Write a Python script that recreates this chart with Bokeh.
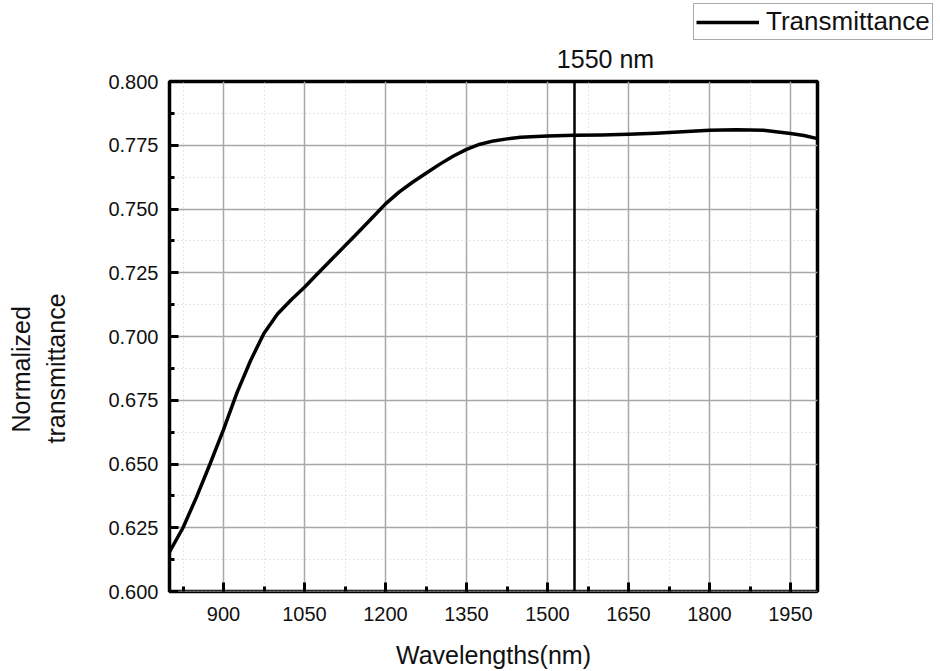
from bokeh.plotting import figure
from bokeh.models import (Range1d, SingleIntervalTicker, PrintfTickFormatter, Span,
                          Title, Legend, LegendItem, Label)
from bokeh.layouts import column
from bokeh.embed import file_html
from bokeh.resources import INLINE

# ---- data ----
wavelength = [800, 825, 850, 875, 900, 925, 950, 975, 1000, 1025, 1050, 1075, 1100,
              1125, 1150, 1175, 1200, 1225, 1250, 1275, 1300, 1325, 1350, 1375, 1400,
              1425, 1450, 1500, 1550, 1600, 1650, 1700, 1750, 1800, 1850, 1900, 1950,
              1975, 2000]
transmittance = [0.6155, 0.625, 0.637, 0.650, 0.6635, 0.678, 0.6905, 0.7013, 0.7088,
                 0.7143, 0.7193, 0.7248, 0.7302, 0.7356, 0.741, 0.7465, 0.752, 0.7566,
                 0.7605, 0.764, 0.7675, 0.7707, 0.7734, 0.7754, 0.7767, 0.7775, 0.7781,
                 0.7786, 0.7789, 0.7790, 0.7793, 0.7797, 0.7803, 0.7809, 0.7811,
                 0.7809, 0.7796, 0.7788, 0.7776]
x_start, x_end = 800, 2000
y_start, y_end = 0.6, 0.8
marker_wavelength = 1550
marker_label = "1550 nm"
series_name = "Transmittance"
x_title = "Wavelengths(nm)"
y_title_lines = ["Normalized", "transmittance"]

FONT = "Liberation Sans"
TXT = "#111111"

W = 940
TOP_H = 70
MAIN_H = 671 - TOP_H
LEFT, RIGHT = 169, 123
FRAME_W = W - LEFT - RIGHT
px_per_unit = FRAME_W / (x_end - x_start)

# ---------------- main plot ----------------
p = figure(width=W, height=MAIN_H, output_backend="svg", toolbar_location=None,
           x_range=Range1d(x_start, x_end), y_range=Range1d(y_start, y_end),
           min_border_left=LEFT, min_border_right=RIGHT, min_border_top=81 - TOP_H,
           min_border_bottom=80)
p.frame_align = False
p.outline_line_color = "black"
p.outline_line_width = 3.5
p.background_fill_color = "white"
p.border_fill_color = "white"

r = p.line(wavelength, transmittance, line_color="black", line_width=3.5,
           line_join="round")

p.xaxis.ticker = SingleIntervalTicker(interval=150, num_minor_ticks=2)
p.yaxis.ticker = SingleIntervalTicker(interval=0.025, num_minor_ticks=2)
p.yaxis.formatter = PrintfTickFormatter(format="%.3f")
for ax in (p.xaxis, p.yaxis):
    ax.axis_line_color = None
    ax.major_tick_in = 9
    ax.major_tick_out = 0
    ax.minor_tick_in = 5
    ax.minor_tick_out = 0
    ax.major_tick_line_width = 3
    ax.minor_tick_line_width = 3
    ax.major_tick_line_color = "black"
    ax.minor_tick_line_color = "black"
    ax.major_label_text_font = FONT
    ax.major_label_text_font_size = "20px"
    ax.major_label_text_color = TXT
p.xaxis.major_label_standoff = 15
p.yaxis.major_label_standoff = 11
p.xaxis.axis_label = x_title
p.xaxis.axis_label_text_font = FONT
p.xaxis.axis_label_text_font_size = "25px"
p.xaxis.axis_label_text_font_style = "normal"
p.xaxis.axis_label_text_color = TXT
p.xaxis.axis_label_standoff = 17
# blank y axis label only used as a spacer
p.yaxis.axis_label = " "
p.yaxis.axis_label_text_font_size = "1px"
p.yaxis.axis_label_standoff = 31

for g in (p.xgrid, p.ygrid):
    g.grid_line_color = "#a8a8a8"
    g.grid_line_width = 1.5
    g.minor_grid_line_color = "#cfcfcf"
    g.minor_grid_line_width = 1
    g.minor_grid_line_dash = "1 3"

p.add_layout(Span(location=marker_wavelength, dimension="height",
                  line_color="black", line_width=2.5))

# y axis title: two rotated lines (first added is nearest the frame)
p.add_layout(Title(text=y_title_lines[1], align="left", offset=148, standoff=2,
                   vertical_align="bottom", text_font=FONT, text_font_size="25px",
                   text_font_style="normal", text_color=TXT), "left")
p.add_layout(Title(text=y_title_lines[0], align="left", offset=159, standoff=8,
                   vertical_align="bottom", text_font=FONT, text_font_size="25px",
                   text_font_style="normal", text_color=TXT), "left")

# ---------------- top strip: marker label + legend ----------------
top = figure(width=W, height=TOP_H, output_backend="svg", toolbar_location=None,
             x_axis_type=None, y_axis_type=None,
             x_range=Range1d(x_start - LEFT / px_per_unit, x_end + RIGHT / px_per_unit),
             y_range=Range1d(-2, -1), min_border=0)
top.frame_align = False
top.grid.visible = False
top.outline_line_color = None
top.background_fill_color = "white"
top.border_fill_color = "white"
r2 = top.line(wavelength, transmittance, line_color="black", line_width=3.5)

top.add_layout(Label(x=marker_wavelength, y=TOP_H - 58, x_units="data", y_units="screen",
                     x_offset=31, text=marker_label, text_font=FONT,
                     text_font_size="25px", text_align="center",
                     text_baseline="alphabetic", text_color=TXT))

legend = Legend(items=[LegendItem(label=series_name, renderers=[r2])],
                location=(693, TOP_H - 40))
legend.label_text_font = FONT
legend.label_text_font_size = "26px"
legend.label_text_color = TXT
legend.glyph_width = 63
legend.glyph_height = 24
legend.label_height = 24
legend.label_standoff = 7
legend.padding = 2
legend.margin = 0
legend.spacing = 0
legend.border_line_color = "#555555"
legend.border_line_width = 1
legend.background_fill_alpha = 1
top.add_layout(legend, "center")

layout = column(top, p, spacing=0)
open("out.html", "w").write(file_html(layout, INLINE))
